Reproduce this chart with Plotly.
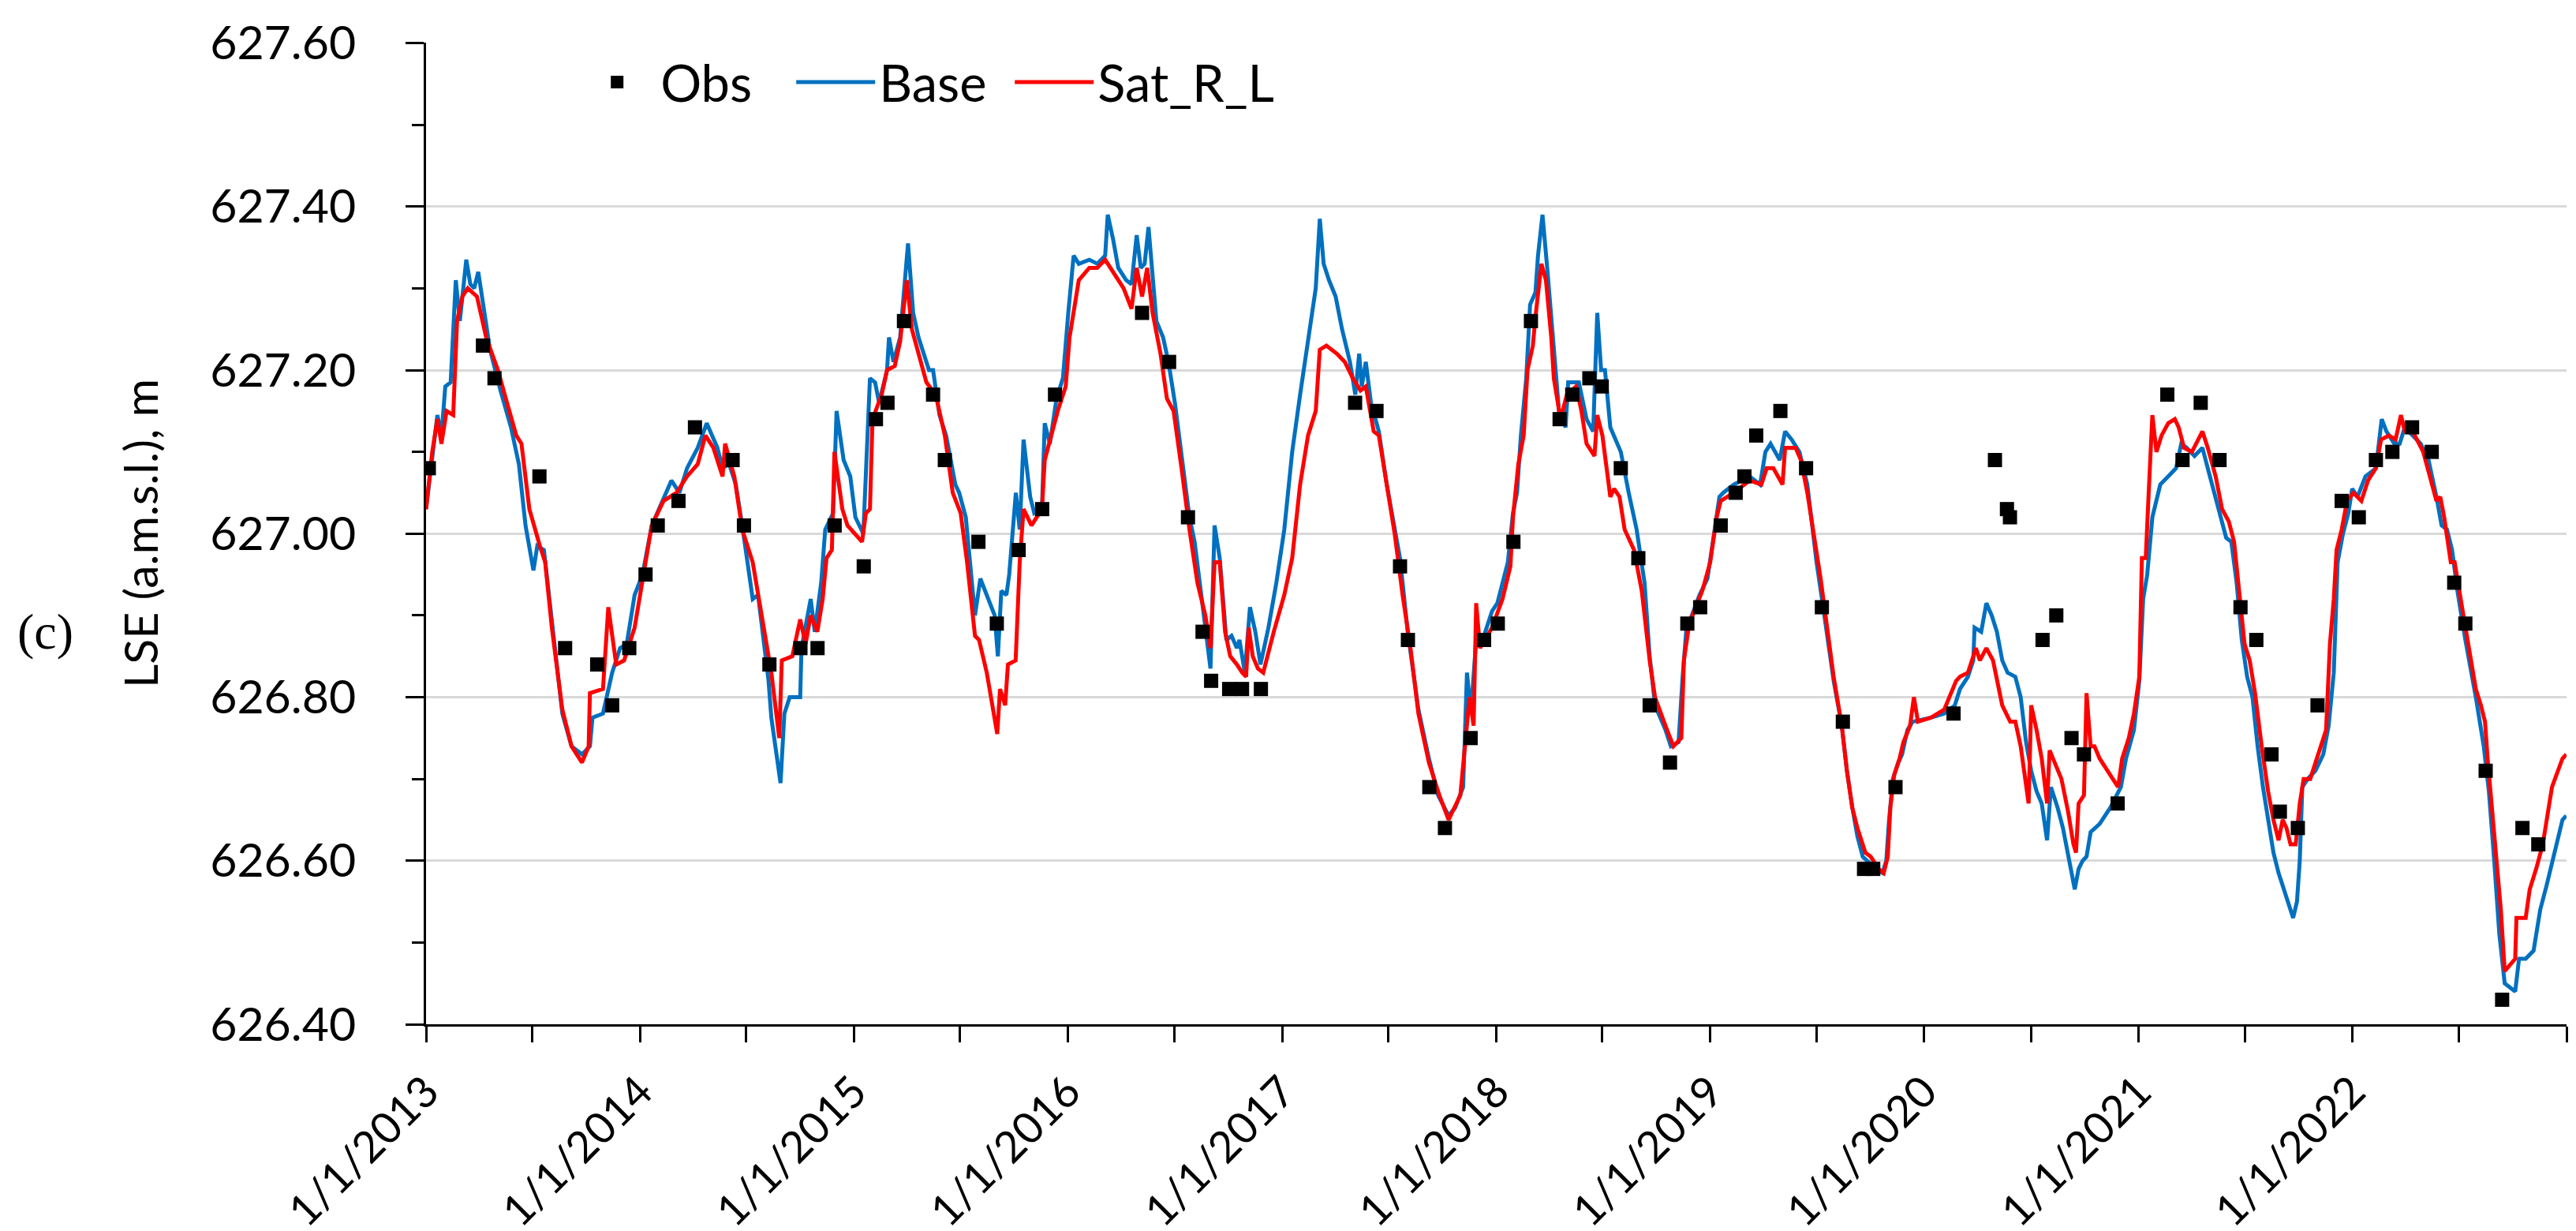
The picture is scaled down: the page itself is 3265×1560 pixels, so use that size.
import plotly.graph_objects as go
from datetime import datetime

# ---------------- data (decimal year, LSE m a.m.s.l.) ----------------
obs_series = [
    [2013.013, 627.08], [2013.266, 627.23], [2013.320, 627.19], [2013.530, 627.07],
    [2013.650, 626.86], [2013.800, 626.84], [2013.870, 626.79], [2013.950, 626.86],
    [2014.026, 626.95], [2014.083, 627.01], [2014.180, 627.04], [2014.257, 627.13],
    [2014.433, 627.09], [2014.486, 627.01], [2014.605, 626.84], [2014.750, 626.86],
    [2014.830, 626.86], [2014.910, 627.01], [2015.046, 626.96], [2015.103, 627.14],
    [2015.157, 627.16], [2015.234, 627.26], [2015.370, 627.17], [2015.425, 627.09],
    [2015.582, 626.99], [2015.668, 626.89], [2015.770, 626.98], [2015.880, 627.03],
    [2015.940, 627.17], [2016.346, 627.27], [2016.472, 627.21], [2016.560, 627.02],
    [2016.628, 626.88], [2016.668, 626.82], [2016.752, 626.81], [2016.812, 626.81],
    [2016.900, 626.81], [2017.340, 627.16], [2017.440, 627.15], [2017.550, 626.96],
    [2017.587, 626.87], [2017.687, 626.69], [2017.760, 626.64], [2017.880, 626.75],
    [2017.943, 626.87], [2018.007, 626.89], [2018.080, 626.99], [2018.162, 627.26],
    [2018.296, 627.14], [2018.355, 627.17], [2018.435, 627.19], [2018.493, 627.18],
    [2018.582, 627.08], [2018.664, 626.97], [2018.717, 626.79], [2018.812, 626.72],
    [2018.893, 626.89], [2018.953, 626.91], [2019.049, 627.01], [2019.119, 627.05],
    [2019.160, 627.07], [2019.215, 627.12], [2019.328, 627.15], [2019.448, 627.08],
    [2019.522, 626.91], [2019.620, 626.77], [2019.719, 626.59], [2019.762, 626.59],
    [2019.866, 626.69], [2020.137, 626.78], [2020.330, 627.09], [2020.386, 627.03],
    [2020.400, 627.02], [2020.552, 626.87], [2020.616, 626.90], [2020.687, 626.75],
    [2020.745, 626.73], [2020.902, 626.67], [2021.134, 627.17], [2021.205, 627.09],
    [2021.290, 627.16], [2021.378, 627.09], [2021.476, 626.91], [2021.550, 626.87],
    [2021.621, 626.73], [2021.660, 626.66], [2021.744, 626.64], [2021.836, 626.79],
    [2021.949, 627.04], [2022.029, 627.02], [2022.109, 627.09], [2022.186, 627.10],
    [2022.278, 627.13], [2022.370, 627.10], [2022.475, 626.94], [2022.527, 626.89],
    [2022.622, 626.71], [2022.699, 626.43], [2022.794, 626.64], [2022.868, 626.62],
]

base_series = [
    [2013.000, 627.03], [2013.035, 627.11], [2013.053, 627.145], [2013.072, 627.12],
    [2013.090, 627.18], [2013.115, 627.185], [2013.139, 627.31], [2013.158, 627.26],
    [2013.188, 627.335], [2013.207, 627.305], [2013.225, 627.30], [2013.244, 627.32],
    [2013.268, 627.28], [2013.299, 627.225], [2013.348, 627.175], [2013.397, 627.13],
    [2013.434, 627.085], [2013.465, 627.01], [2013.502, 626.955], [2013.520, 626.985],
    [2013.551, 626.98], [2013.594, 626.88], [2013.637, 626.78], [2013.680, 626.74],
    [2013.729, 626.73], [2013.766, 626.74], [2013.778, 626.775], [2013.827, 626.78],
    [2013.852, 626.81], [2013.870, 626.83], [2013.907, 626.86], [2013.938, 626.865],
    [2013.975, 626.925], [2014.012, 626.95], [2014.055, 627.01], [2014.098, 627.035],
    [2014.147, 627.065], [2014.184, 627.05], [2014.220, 627.08], [2014.270, 627.105],
    [2014.312, 627.135], [2014.362, 627.105], [2014.386, 627.08], [2014.417, 627.085],
    [2014.448, 627.06], [2014.478, 627.01], [2014.509, 626.95], [2014.527, 626.92],
    [2014.552, 626.925], [2014.601, 626.82], [2014.614, 626.775], [2014.657, 626.695],
    [2014.675, 626.78], [2014.700, 626.80], [2014.749, 626.80], [2014.755, 626.86],
    [2014.798, 626.92], [2014.817, 626.88], [2014.847, 626.94], [2014.866, 627.005],
    [2014.903, 627.025], [2014.919, 627.15], [2014.952, 627.09], [2014.983, 627.07],
    [2015.007, 627.02], [2015.044, 627.00], [2015.075, 627.19], [2015.099, 627.185],
    [2015.118, 627.16], [2015.155, 627.20], [2015.164, 627.24], [2015.185, 627.21],
    [2015.216, 627.24], [2015.253, 627.355], [2015.277, 627.27], [2015.302, 627.24],
    [2015.351, 627.20], [2015.370, 627.20], [2015.400, 627.145], [2015.431, 627.12],
    [2015.474, 627.06], [2015.492, 627.05], [2015.523, 627.02], [2015.566, 626.90],
    [2015.591, 626.945], [2015.627, 626.92], [2015.658, 626.90], [2015.673, 626.85],
    [2015.689, 626.93], [2015.713, 626.925], [2015.726, 626.95], [2015.757, 627.05],
    [2015.775, 627.005], [2015.793, 627.115], [2015.824, 627.045], [2015.843, 627.025],
    [2015.879, 627.03], [2015.892, 627.135], [2015.916, 627.11], [2015.947, 627.165],
    [2015.977, 627.19], [2016.002, 627.27], [2016.027, 627.34], [2016.051, 627.33],
    [2016.100, 627.335], [2016.137, 627.33], [2016.174, 627.34], [2016.186, 627.39],
    [2016.211, 627.36], [2016.235, 627.325], [2016.272, 627.31], [2016.297, 627.305],
    [2016.321, 627.365], [2016.340, 627.325], [2016.358, 627.33], [2016.376, 627.375],
    [2016.395, 627.31], [2016.413, 627.26], [2016.444, 627.24], [2016.469, 627.21],
    [2016.499, 627.16], [2016.530, 627.10], [2016.567, 627.02], [2016.591, 626.99],
    [2016.628, 626.91], [2016.665, 626.835], [2016.684, 627.01], [2016.708, 626.97],
    [2016.739, 626.87], [2016.763, 626.875], [2016.788, 626.86], [2016.800, 626.87],
    [2016.825, 626.83], [2016.849, 626.91], [2016.874, 626.88], [2016.898, 626.84],
    [2016.935, 626.885], [2016.972, 626.94], [2017.009, 627.005], [2017.046, 627.10],
    [2017.083, 627.17], [2017.120, 627.24], [2017.156, 627.30], [2017.175, 627.385],
    [2017.193, 627.33], [2017.218, 627.31], [2017.249, 627.29], [2017.279, 627.25],
    [2017.316, 627.21], [2017.341, 627.17], [2017.359, 627.22], [2017.371, 627.18],
    [2017.390, 627.21], [2017.414, 627.16], [2017.451, 627.125], [2017.488, 627.06],
    [2017.525, 627.005], [2017.550, 626.97], [2017.586, 626.88], [2017.636, 626.785],
    [2017.685, 626.725], [2017.728, 626.68], [2017.777, 626.655], [2017.808, 626.665],
    [2017.845, 626.69], [2017.863, 626.83], [2017.881, 626.78], [2017.906, 626.87],
    [2017.930, 626.865], [2017.980, 626.905], [2018.005, 626.915], [2018.054, 626.965],
    [2018.078, 627.025], [2018.097, 627.05], [2018.115, 627.12], [2018.140, 627.19],
    [2018.158, 627.28], [2018.183, 627.295], [2018.195, 627.34], [2018.216, 627.39],
    [2018.238, 627.325], [2018.263, 627.24], [2018.293, 627.15], [2018.324, 627.13],
    [2018.336, 627.185], [2018.386, 627.185], [2018.422, 627.14], [2018.453, 627.125],
    [2018.472, 627.27], [2018.490, 627.20], [2018.508, 627.20], [2018.533, 627.13],
    [2018.551, 627.12], [2018.582, 627.10], [2018.619, 627.05], [2018.656, 627.005],
    [2018.693, 626.94], [2018.717, 626.85], [2018.742, 626.79], [2018.791, 626.76],
    [2018.816, 626.74], [2018.852, 626.745], [2018.871, 626.825], [2018.889, 626.885],
    [2018.914, 626.90], [2018.950, 626.925], [2018.987, 626.945], [2019.012, 626.99],
    [2019.043, 627.045], [2019.061, 627.05], [2019.110, 627.06], [2019.184, 627.07],
    [2019.233, 627.06], [2019.258, 627.10], [2019.282, 627.11], [2019.325, 627.09],
    [2019.350, 627.125], [2019.381, 627.115], [2019.417, 627.10], [2019.454, 627.06],
    [2019.497, 626.965], [2019.528, 626.91], [2019.577, 626.82], [2019.615, 626.765],
    [2019.639, 626.71], [2019.664, 626.665], [2019.688, 626.63], [2019.713, 626.605],
    [2019.750, 626.595], [2019.774, 626.59], [2019.805, 626.585], [2019.823, 626.60],
    [2019.836, 626.65], [2019.854, 626.70], [2019.879, 626.72], [2019.897, 626.73],
    [2019.922, 626.76], [2019.946, 626.77], [2020.032, 626.775], [2020.094, 626.78],
    [2020.143, 626.79], [2020.167, 626.81], [2020.204, 626.825], [2020.229, 626.845],
    [2020.235, 626.885], [2020.266, 626.88], [2020.290, 626.915], [2020.315, 626.90],
    [2020.339, 626.88], [2020.364, 626.845], [2020.389, 626.83], [2020.425, 626.825],
    [2020.450, 626.80], [2020.475, 626.745], [2020.499, 626.71], [2020.524, 626.685],
    [2020.548, 626.67], [2020.573, 626.625], [2020.591, 626.69], [2020.622, 626.665],
    [2020.647, 626.64], [2020.671, 626.605], [2020.702, 626.565], [2020.720, 626.59],
    [2020.739, 626.60], [2020.757, 626.605], [2020.776, 626.635], [2020.818, 626.645],
    [2020.868, 626.665], [2020.917, 626.69], [2020.941, 626.725], [2020.978, 626.76],
    [2021.003, 626.82], [2021.021, 626.92], [2021.040, 626.95], [2021.064, 627.02],
    [2021.101, 627.06], [2021.138, 627.07], [2021.175, 627.08], [2021.199, 627.11],
    [2021.224, 627.105], [2021.261, 627.095], [2021.298, 627.105], [2021.323, 627.08],
    [2021.360, 627.045], [2021.390, 627.015], [2021.409, 626.995], [2021.433, 626.99],
    [2021.458, 626.94], [2021.482, 626.87], [2021.507, 626.825], [2021.532, 626.80],
    [2021.556, 626.74], [2021.581, 626.69], [2021.605, 626.65], [2021.630, 626.61],
    [2021.654, 626.585], [2021.679, 626.565], [2021.722, 626.53], [2021.740, 626.55],
    [2021.753, 626.60], [2021.765, 626.69], [2021.790, 626.70], [2021.826, 626.71],
    [2021.863, 626.73], [2021.888, 626.765], [2021.912, 626.83], [2021.930, 626.965],
    [2021.955, 627.00], [2021.980, 627.025], [2021.998, 627.055], [2022.023, 627.045],
    [2022.060, 627.07], [2022.109, 627.08], [2022.136, 627.14], [2022.158, 627.125],
    [2022.195, 627.11], [2022.220, 627.11], [2022.244, 627.13], [2022.281, 627.12],
    [2022.318, 627.11], [2022.355, 627.09], [2022.392, 627.045], [2022.416, 627.01],
    [2022.441, 627.005], [2022.465, 626.98], [2022.490, 626.93], [2022.527, 626.87],
    [2022.576, 626.80], [2022.613, 626.74], [2022.637, 626.685], [2022.662, 626.60],
    [2022.686, 626.51], [2022.711, 626.45], [2022.760, 626.44], [2022.778, 626.48],
    [2022.809, 626.48], [2022.846, 626.49], [2022.877, 626.54], [2022.907, 626.57],
    [2022.944, 626.61], [2022.981, 626.65], [2022.999, 626.655],
]

sat_series = [
    [2013.000, 627.03], [2013.029, 627.10], [2013.053, 627.14], [2013.072, 627.11],
    [2013.096, 627.15], [2013.127, 627.145], [2013.145, 627.26], [2013.170, 627.29],
    [2013.195, 627.30], [2013.238, 627.29], [2013.281, 627.24], [2013.336, 627.20],
    [2013.373, 627.165], [2013.422, 627.12], [2013.446, 627.11], [2013.483, 627.03],
    [2013.532, 626.985], [2013.557, 626.965], [2013.588, 626.885], [2013.637, 626.785],
    [2013.680, 626.74], [2013.729, 626.72], [2013.760, 626.74], [2013.766, 626.805],
    [2013.827, 626.81], [2013.852, 626.91], [2013.889, 626.84], [2013.926, 626.845],
    [2013.975, 626.885], [2014.012, 626.94], [2014.055, 627.01], [2014.110, 627.04],
    [2014.171, 627.05], [2014.220, 627.07], [2014.270, 627.085], [2014.306, 627.12],
    [2014.343, 627.105], [2014.386, 627.07], [2014.398, 627.11], [2014.441, 627.07],
    [2014.478, 627.005], [2014.527, 626.965], [2014.589, 626.87], [2014.614, 626.83],
    [2014.651, 626.75], [2014.663, 626.845], [2014.712, 626.85], [2014.749, 626.895],
    [2014.774, 626.865], [2014.798, 626.90], [2014.829, 626.88], [2014.854, 626.92],
    [2014.872, 626.97], [2014.897, 626.98], [2014.909, 627.10], [2014.946, 627.03],
    [2014.970, 627.01], [2015.038, 626.99], [2015.056, 627.025], [2015.075, 627.03],
    [2015.087, 627.14], [2015.130, 627.17], [2015.155, 627.20], [2015.191, 627.205],
    [2015.216, 627.235], [2015.247, 627.31], [2015.271, 627.25], [2015.314, 627.21],
    [2015.339, 627.185], [2015.382, 627.17], [2015.425, 627.12], [2015.462, 627.05],
    [2015.499, 627.025], [2015.529, 626.965], [2015.566, 626.875], [2015.585, 626.87],
    [2015.621, 626.83], [2015.670, 626.755], [2015.683, 626.81], [2015.707, 626.79],
    [2015.720, 626.84], [2015.756, 626.845], [2015.775, 626.965], [2015.793, 627.03],
    [2015.830, 627.01], [2015.879, 627.03], [2015.892, 627.09], [2015.953, 627.15],
    [2015.990, 627.18], [2016.008, 627.24], [2016.051, 627.31], [2016.100, 627.325],
    [2016.137, 627.325], [2016.174, 627.335], [2016.211, 627.32], [2016.260, 627.30],
    [2016.297, 627.275], [2016.321, 627.325], [2016.346, 627.29], [2016.370, 627.325],
    [2016.395, 627.27], [2016.432, 627.22], [2016.462, 627.165], [2016.493, 627.15],
    [2016.530, 627.08], [2016.567, 627.005], [2016.604, 626.94], [2016.641, 626.90],
    [2016.665, 626.86], [2016.684, 626.965], [2016.708, 626.965], [2016.733, 626.88],
    [2016.757, 626.85], [2016.788, 626.84], [2016.813, 626.83], [2016.831, 626.825],
    [2016.843, 626.885], [2016.862, 626.85], [2016.886, 626.835], [2016.911, 626.83],
    [2016.960, 626.88], [2017.009, 626.925], [2017.046, 626.97], [2017.083, 627.06],
    [2017.120, 627.12], [2017.156, 627.15], [2017.175, 627.225], [2017.206, 627.23],
    [2017.255, 627.22], [2017.292, 627.21], [2017.329, 627.19], [2017.365, 627.175],
    [2017.390, 627.18], [2017.427, 627.125], [2017.451, 627.12], [2017.488, 627.06],
    [2017.525, 627.00], [2017.562, 626.925], [2017.599, 626.86], [2017.636, 626.78],
    [2017.685, 626.72], [2017.734, 626.68], [2017.777, 626.65], [2017.832, 626.68],
    [2017.857, 626.745], [2017.875, 626.80], [2017.894, 626.765], [2017.906, 626.915],
    [2017.924, 626.86], [2017.980, 626.885], [2018.029, 626.92], [2018.066, 626.96],
    [2018.078, 627.02], [2018.103, 627.085], [2018.128, 627.12], [2018.146, 627.20],
    [2018.171, 627.23], [2018.183, 627.265], [2018.211, 627.33], [2018.232, 627.31],
    [2018.257, 627.24], [2018.269, 627.19], [2018.300, 627.14], [2018.330, 627.17],
    [2018.373, 627.18], [2018.398, 627.15], [2018.422, 627.11], [2018.459, 627.095],
    [2018.472, 627.145], [2018.496, 627.12], [2018.533, 627.045], [2018.551, 627.055],
    [2018.576, 627.045], [2018.600, 627.005], [2018.644, 626.98], [2018.680, 626.93],
    [2018.717, 626.845], [2018.742, 626.80], [2018.791, 626.765], [2018.828, 626.74],
    [2018.865, 626.75], [2018.877, 626.845], [2018.902, 626.89], [2018.963, 626.93],
    [2019.000, 626.965], [2019.030, 627.02], [2019.049, 627.04], [2019.110, 627.05],
    [2019.184, 627.065], [2019.239, 627.06], [2019.264, 627.08], [2019.295, 627.08],
    [2019.338, 627.06], [2019.350, 627.105], [2019.399, 627.105], [2019.424, 627.09],
    [2019.454, 627.05], [2019.479, 627.005], [2019.516, 626.945], [2019.577, 626.825],
    [2019.615, 626.765], [2019.639, 626.71], [2019.664, 626.665], [2019.688, 626.64],
    [2019.725, 626.61], [2019.750, 626.605], [2019.787, 626.59], [2019.811, 626.585],
    [2019.830, 626.605], [2019.842, 626.665], [2019.860, 626.705], [2019.885, 626.725],
    [2019.903, 626.745], [2019.934, 626.765], [2019.952, 626.80], [2019.971, 626.77],
    [2020.032, 626.775], [2020.094, 626.785], [2020.149, 626.82], [2020.167, 626.825],
    [2020.204, 626.83], [2020.229, 626.85], [2020.241, 626.86], [2020.260, 626.845],
    [2020.290, 626.86], [2020.321, 626.845], [2020.339, 626.82], [2020.364, 626.79],
    [2020.401, 626.77], [2020.425, 626.77], [2020.450, 626.74], [2020.487, 626.67],
    [2020.499, 626.79], [2020.524, 626.76], [2020.548, 626.725], [2020.573, 626.67],
    [2020.585, 626.735], [2020.610, 626.72], [2020.640, 626.70], [2020.671, 626.66],
    [2020.696, 626.62], [2020.708, 626.61], [2020.720, 626.67], [2020.745, 626.68],
    [2020.757, 626.805], [2020.776, 626.74], [2020.794, 626.74], [2020.818, 626.725],
    [2020.868, 626.705], [2020.904, 626.69], [2020.923, 626.725], [2020.954, 626.75],
    [2020.978, 626.78], [2021.003, 626.825], [2021.015, 626.97], [2021.033, 626.97],
    [2021.046, 627.045], [2021.064, 627.145], [2021.083, 627.10], [2021.107, 627.12],
    [2021.138, 627.135], [2021.169, 627.14], [2021.187, 627.13], [2021.212, 627.105],
    [2021.249, 627.10], [2021.298, 627.125], [2021.323, 627.105], [2021.360, 627.07],
    [2021.390, 627.03], [2021.421, 627.015], [2021.446, 626.99], [2021.470, 626.925],
    [2021.495, 626.865], [2021.519, 626.845], [2021.544, 626.805], [2021.575, 626.74],
    [2021.605, 626.685], [2021.630, 626.65], [2021.654, 626.625], [2021.673, 626.65],
    [2021.691, 626.64], [2021.710, 626.62], [2021.734, 626.62], [2021.753, 626.67],
    [2021.771, 626.70], [2021.802, 626.70], [2021.826, 626.72], [2021.851, 626.74],
    [2021.876, 626.76], [2021.894, 626.865], [2021.912, 626.92], [2021.925, 626.98],
    [2021.949, 627.005], [2021.974, 627.04], [2022.004, 627.05], [2022.041, 627.04],
    [2022.072, 627.065], [2022.109, 627.08], [2022.133, 627.115], [2022.170, 627.12],
    [2022.201, 627.115], [2022.226, 627.145], [2022.244, 627.125], [2022.281, 627.125],
    [2022.330, 627.10], [2022.361, 627.07], [2022.392, 627.04], [2022.410, 627.045],
    [2022.428, 627.02], [2022.459, 626.965], [2022.477, 626.965], [2022.502, 626.925],
    [2022.539, 626.865], [2022.576, 626.81], [2022.600, 626.79], [2022.619, 626.77],
    [2022.631, 626.725], [2022.662, 626.63], [2022.693, 626.54], [2022.711, 626.465],
    [2022.760, 626.48], [2022.766, 626.53], [2022.809, 626.53], [2022.828, 626.565],
    [2022.858, 626.59], [2022.889, 626.62], [2022.914, 626.66], [2022.932, 626.69],
    [2022.981, 626.725], [2022.999, 626.73],
]

year_ticks = list(range(2013, 2023))
y_ticks = [626.40, 626.60, 626.80, 627.00, 627.20, 627.40, 627.60]


def to_date(d):
    y = int(d)
    a = datetime(y, 1, 1)
    b = datetime(y + 1, 1, 1)
    return a + (b - a) * (d - y)


def split(series):
    return [to_date(p[0]) for p in series], [p[1] for p in series]


obs_t, obs_v = split(obs_series)
base_t, base_v = split(base_series)
sat_t, sat_v = split(sat_series)

FONT = "Lato"
FS = 59

fig = go.Figure()
fig.add_trace(go.Scatter(x=base_t, y=base_v, mode="lines", name="Base",
                         line=dict(color="#0070C0", width=5), legendrank=2))
fig.add_trace(go.Scatter(x=sat_t, y=sat_v, mode="lines", name="Sat_R_L",
                         line=dict(color="#FF0000", width=5), legendrank=3))
fig.add_trace(go.Scatter(x=obs_t, y=obs_v, mode="markers", name="Obs",
                         marker=dict(symbol="square", size=18, color="black"),
                         legendrank=1))
# empty legend spacer so the last legend label is not clipped by the fixed entry width
fig.add_trace(go.Scatter(x=[None], y=[None], mode="lines", name="\u00a0",
                         line=dict(color="rgba(0,0,0,0)", width=0),
                         hoverinfo="skip", legendrank=4))

major_x = [datetime(y, 1, 1) for y in year_ticks]
minor_x = [datetime(y, 7, 1) for y in year_ticks] + [datetime(2023, 1, 1)]

fig.update_layout(
    width=3265, height=1560,
    margin=dict(l=532, r=20, t=46, b=270),
    paper_bgcolor="white", plot_bgcolor="white",
    font=dict(family=FONT, size=FS, color="black"),
    showlegend=True,
    legend=dict(orientation="h", x=0.069, y=0.999, xanchor="left", yanchor="top",
                bgcolor="rgba(0,0,0,0)", font=dict(size=65, family=FONT),
                itemwidth=100, entrywidthmode="pixels", entrywidth=162,
                tracegroupgap=0),
    xaxis=dict(
        type="date", range=[datetime(2013, 1, 1), datetime(2023, 1, 1)],
        tickmode="array", tickvals=major_x, tickformat="%-m/%-d/%Y",
        tickangle=-45, ticks="outside", ticklen=20, tickwidth=3, tickcolor="black",
        ticklabelstandoff=8, automargin=False,
        showline=True, linecolor="black", linewidth=3, showgrid=False, zeroline=False,
        tickfont=dict(size=55, family=FONT),
        minor=dict(tickmode="array", tickvals=minor_x, ticks="outside", ticklen=20,
                   tickwidth=3, tickcolor="black", showgrid=False),
    ),
    yaxis=dict(
        range=[626.40, 627.6005], tickmode="array", tickvals=y_ticks,
        tickformat=".2f", ticks="outside", ticklen=23, tickwidth=3, tickcolor="black",
        ticklabelstandoff=51, automargin=False,
        showline=True, linecolor="black", linewidth=3,
        showgrid=True, gridcolor="#D9D9D9", gridwidth=3, zeroline=False,
        tickfont=dict(size=FS, family=FONT),
        minor=dict(dtick=0.1, tick0=626.4, ticks="outside", ticklen=15, tickwidth=3,
                   tickcolor="black", showgrid=False),
        title=dict(text="LSE (a.m.s.l.), m", font=dict(size=FS, family=FONT), standoff=47),
    ),
    annotations=[dict(text="(c)", xref="paper", yref="paper", x=-0.178, y=0.40,
                      xanchor="center", yanchor="middle", showarrow=False,
                      font=dict(family="Liberation Serif", size=64, color="black"))],
)

fig.write_html("out.html")
